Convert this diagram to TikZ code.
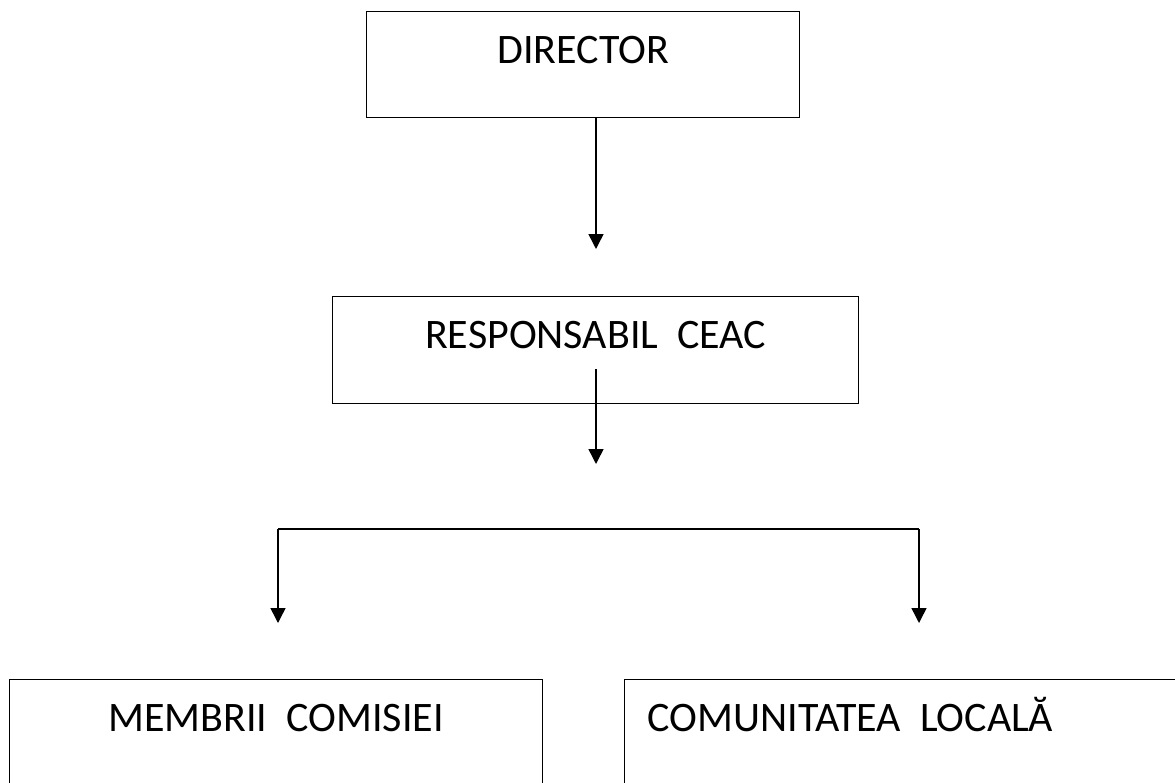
\documentclass[tikz,border=0pt]{standalone}
\usepackage{fontspec}
\setmainfont{Carlito}
\usetikzlibrary{arrows.meta}
\tikzset{
  box/.style={draw, line width=1.3pt, inner sep=0pt, anchor=north west,
    font=\fontsize{42}{50}\selectfont},
  arr/.style={line width=1.5pt, -{Triangle[length=15pt,width=15pt]}},
  conn/.style={line width=1.5pt}
}
\begin{document}
\begin{tikzpicture}[x=1pt,y=-1pt]
\useasboundingbox (0,0) rectangle (1175,782);
\clip (0,0) rectangle (1175,782);
\fill[white] (0,0) rectangle (1175,782);
% boxes
\node[box, minimum width=433pt, text height=52pt, text depth=54pt] (dir) at (366,11) {DIRECTOR};
\node[box, minimum width=526pt, text height=52pt, text depth=55pt] (resp) at (332,296) {RESPONSABIL\ \ CEAC};
\node[box, minimum width=533pt, text height=52pt, text depth=70pt] (memb) at (9,679) {MEMBRII\ \ COMISIEI};
\node[box, text width=530pt, align=flush left, inner xsep=23pt, text height=52pt, text depth=70pt] (com) at (624,679) {\mbox{COMUNITATEA\ \ LOCALĂ}};
% connector coordinates
\coordinate (a1e) at (596,249);
\coordinate (a2s) at (596,369);
\coordinate (a2e) at (596,464);
\coordinate (bl) at (278,529);
\coordinate (br) at (919,529);
\coordinate (tl) at (278,623);
\coordinate (tr) at (919,623);
% connectors
\draw[arr] (dir.south -| a1e) -- (a1e);
\draw[arr] (a2s) -- (a2e);
\draw[conn] (bl) -- (br);
\draw[arr] (bl) -- (tl);
\draw[arr] (br) -- (tr);
\end{tikzpicture}
\end{document}
